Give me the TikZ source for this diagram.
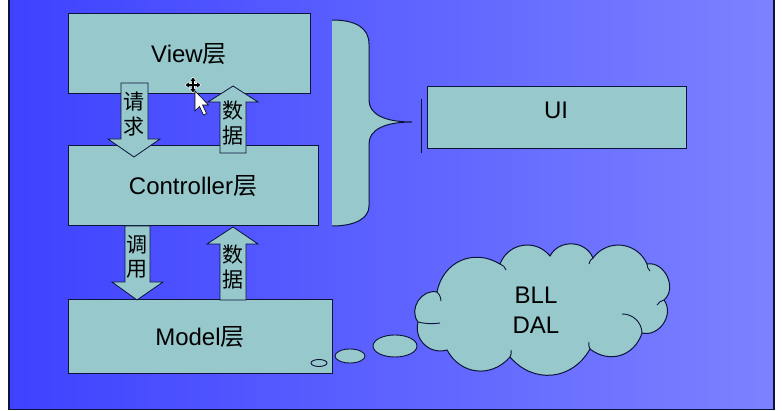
\documentclass[tikz,border=0pt]{standalone}
\usepackage{fontspec}
\setmainfont{Liberation Sans}
\newfontfamily\cjk{Noto Sans CJK SC}
\usetikzlibrary{arrows.meta}
\definecolor{bgL}{RGB}{62,66,255}
\definecolor{bgR}{RGB}{124,130,255}
\definecolor{boxfill}{RGB}{150,200,204}
\definecolor{edge}{RGB}{12,20,60}
\newcommand{\zh}[1]{{\cjk #1}}
\begin{document}
\begin{tikzpicture}[x=1pt,y=-1pt,
  layer/.style={draw=edge, line width=1pt, fill=boxfill, inner sep=0pt,
    font=\fontsize{24}{28}\selectfont},
  blockarrow/.style={draw=edge, line width=0.8pt, fill=boxfill, line join=miter},
  vlabel/.style={font=\cjk\fontsize{21}{24.5}\selectfont, align=center, inner sep=0pt},
  bubble/.style={draw=edge, line width=0.9pt, fill=boxfill},
  bracefill/.style={fill=boxfill},
  braceline/.style={draw=edge, line width=1pt},
  puff/.style={bend left=#1, looseness=1.15},
  inner/.style={draw=edge, line width=0.9pt}]
\useasboundingbox (0,0) rectangle (782,411);
\fill[white] (0,0) rectangle (782,411);
\shade[left color=bgL, right color=bgR] (9,-1) rectangle (774,409.5);
\draw[edge, line width=1.2pt] (9,-2) -- (9,409.5) -- (774,409.5) -- (774,-2);

% layers
\node[layer, minimum width=242pt, minimum height=80pt] (view) at (189,54) {View\zh{层}};
\node[layer, minimum width=250pt, minimum height=80pt] (ctrl) at (193,186) {Controller\zh{层}};
\node[layer, minimum width=264pt, minimum height=74pt] (model) at (200,337) {Model\zh{层}};

% block arrows
\draw[blockarrow] (121,83) -- (148,83) -- (148,139) -- (160,139) -- (134,157) -- (108,139) -- (121,139) -- cycle;
\node[vlabel] (req) at (134,114) {请\\求};
\draw[blockarrow] (220,153) -- (246,153) -- (246,102) -- (258,102) -- (233,86) -- (208,102) -- (220,102) -- cycle;
\node[vlabel] (data1) at (233,123) {数\\据};
\draw[blockarrow] (125,226) -- (150,226) -- (150,282) -- (163,282) -- (137,300) -- (112,282) -- (125,282) -- cycle;
\node[vlabel] (call) at (137,257) {调\\用};
\draw[blockarrow] (220,300) -- (246,300) -- (246,244) -- (258,244) -- (233,227) -- (207,244) -- (220,244) -- cycle;
\node[vlabel] (data2) at (233,267) {数\\据};

% brace
\fill[bracefill] (332,20) .. controls (356,20) and (369,28) .. (369,44) -- (369,100)
  .. controls (369,114) and (384,122) .. (412,122)
  .. controls (384,122) and (369,130) .. (369,144) -- (369,206)
  .. controls (369,218) and (356,226) .. (332,226) -- cycle;
\draw[braceline] (332,20) .. controls (356,20) and (369,28) .. (369,44) -- (369,100)
  .. controls (369,114) and (384,122) .. (412,122)
  .. controls (384,122) and (369,130) .. (369,144) -- (369,206)
  .. controls (369,218) and (356,226) .. (332,226);
\coordinate (bartop) at (421,99);
\coordinate (barbot) at (421,153);
\draw[edge, line width=1pt] (bartop) -- (barbot);

% UI
\node[layer, minimum width=259pt, minimum height=62pt] (ui) at (556.5,118) {};
\node[font=\fontsize{24}{28}\selectfont, inner sep=0pt] (uitext) at (556,110) {UI};

% thought bubbles and cloud
\draw[bubble] (319,363) ellipse [x radius=8, y radius=3.5];
\draw[bubble] (350,356) ellipse [x radius=15, y radius=7];
\draw[bubble] (395,346) ellipse [x radius=22, y radius=11];
\draw[draw=edge, line width=1pt, fill=boxfill]
  (418,322) to[puff=70] (437,292) to[puff=55] (500,264) to[puff=60] (550,256)
  to[puff=65] (593,258) to[puff=60] (647,264) to[puff=75] (664,300)
  to[puff=70] (642,333) to[puff=55] (590,349) to[puff=55] (510,357)
  to[puff=55] (447,350) to[puff=60] cycle;
\draw[inner] (437,292) to[bend left=20] (441,301);
\draw[inner] (500,264) to[bend left=25] (506,270);
\draw[inner] (593,258) to[bend right=25] (589,264);
\draw[inner] (647,264) to[bend right=20] (650,271);
\draw[inner] (664,300) to[bend right=20] (657,305);
\draw[inner] (622,314) to[bend left=45] (642,333);
\draw[inner] (590,349) to[bend left=20] (589,342);
\draw[inner] (510,357) to[bend right=20] (511,350);
\draw[inner] (418,322) to[bend right=10] (440,323);
\node[font=\fontsize{24}{30}\selectfont, align=center, inner sep=0pt] (clouds) at (536,310) {BLL\\DAL};

% mouse cursor
\foreach \a in {0,90,180,270}{
  \draw[white, line width=3pt, -{Triangle[length=5pt,width=7pt]}] (193,85) -- ++(\a:8.5);
}
\foreach \a in {0,90,180,270}{
  \draw[black, line width=1.1pt, -{Triangle[length=3.5pt,width=5pt]}] (193,85) -- ++(\a:7.5);
}
\draw[fill=white, draw=black, line width=0.6pt] (195,91) -- (195,111) -- (199.5,106.5) -- (203.5,115) -- (206.5,113.5) -- (202.5,105) -- (208.5,105) -- cycle;
\end{tikzpicture}
\end{document}
